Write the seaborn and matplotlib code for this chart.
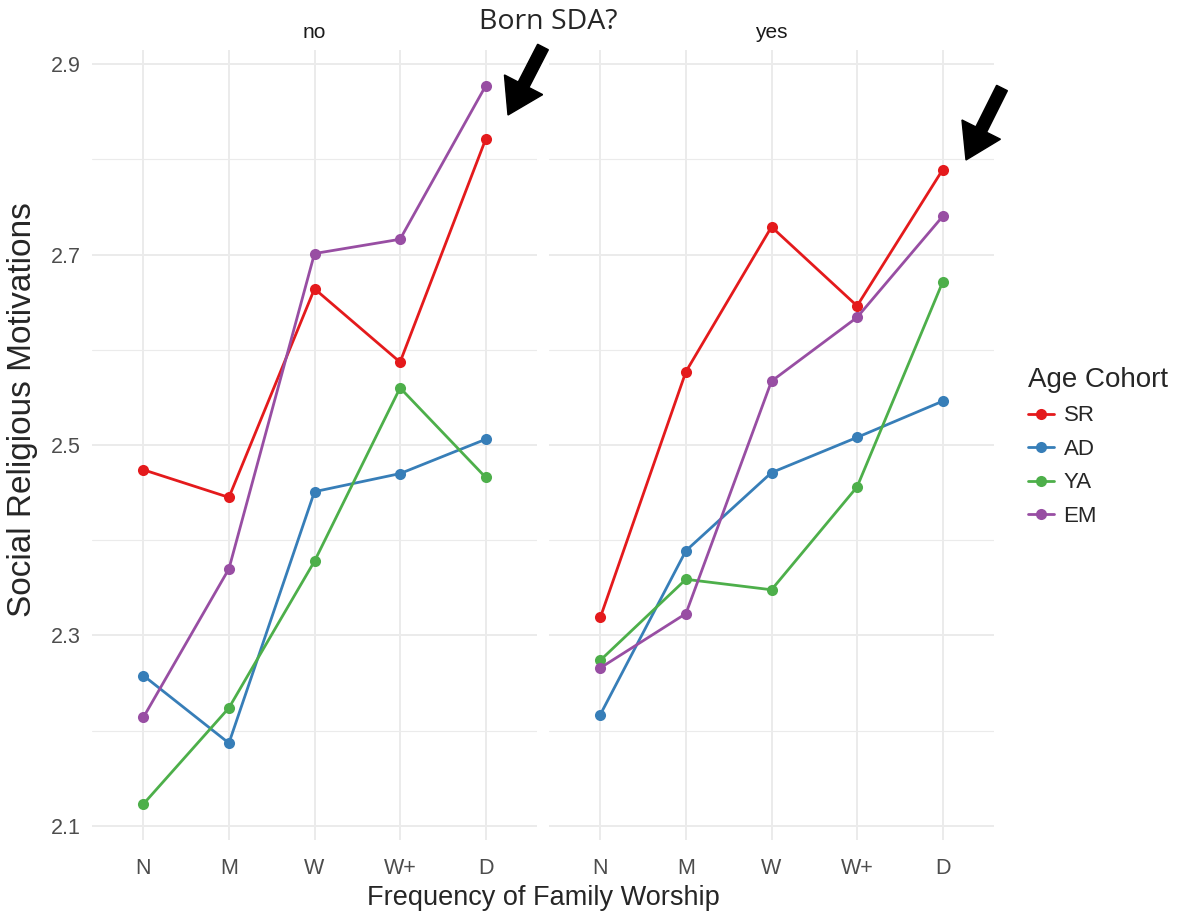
import numpy as np
import pandas as pd
import seaborn as sns
import matplotlib.pyplot as plt
from matplotlib.patches import FancyArrow
from matplotlib.lines import Line2D

freq = ['N', 'M', 'W', 'W+', 'D']
cohorts = ['SR', 'AD', 'YA', 'EM']
panels = ['no', 'yes']

# Born SDA? = no
srNo = [2.474, 2.445, 2.664, 2.587, 2.821]
adNo = [2.258, 2.187, 2.451, 2.470, 2.506]
yaNo = [2.123, 2.224, 2.378, 2.560, 2.466]
emNo = [2.214, 2.370, 2.701, 2.716, 2.877]

# Born SDA? = yes
srYes = [2.319, 2.577, 2.729, 2.646, 2.789]
adYes = [2.217, 2.389, 2.471, 2.508, 2.546]
yaYes = [2.274, 2.359, 2.348, 2.456, 2.671]
emYes = [2.266, 2.323, 2.567, 2.634, 2.740]

palette = ['#E41A1C', '#377EB8', '#4DAF4A', '#984EA3']

rows = []
for panel, series in zip(panels, [[srNo, adNo, yaNo, emNo], [srYes, adYes, yaYes, emYes]]):
    for cohort, vals in zip(cohorts, series):
        for i, v in enumerate(vals):
            rows.append({'born': panel, 'cohort': cohort, 'freq': freq[i], 'pos': i, 'value': v})
df = pd.DataFrame(rows)

sns.set_style('white')
plt.rcParams['font.family'] = ['Liberation Sans', 'DejaVu Sans']

fig = plt.figure(figsize=(11.82, 9.22), dpi=100)
W, H = 1182, 922
lo, hi = df['value'].min(), df['value'].max()
pad = 0.05 * (hi - lo)

axLeft = [92, 549]
for k, panel in enumerate(panels):
    ax = fig.add_axes([axLeft[k] / W, 1 - 840 / H, 445 / W, 790 / H])
    sub = df[df['born'] == panel]
    sns.lineplot(data=sub, x='pos', y='value', hue='cohort', hue_order=cohorts,
                 palette=palette, marker='o', markersize=8, markeredgewidth=0,
                 linewidth=2.0, sort=False, legend=False, ax=ax, zorder=3)
    ax.set_xlim(-0.6, 4.6)
    ax.set_ylim(lo - pad, hi + pad)
    ax.set_yticks([2.1, 2.3, 2.5, 2.7, 2.9])
    ax.set_yticks([2.2, 2.4, 2.6, 2.8], minor=True)
    ax.set_xticks(range(len(freq)))
    ax.set_xticklabels(freq)
    ax.grid(which='major', color='#EBEBEB', linewidth=1.4, zorder=0)
    ax.grid(which='minor', axis='y', color='#EBEBEB', linewidth=0.8, zorder=0)
    ax.tick_params(which='both', length=0, labelsize=15.5, colors='#4D4D4D')
    ax.tick_params(axis='x', pad=13)
    ax.tick_params(axis='y', pad=8)
    if k == 1:
        ax.set_yticklabels([])
    for s in ax.spines.values():
        s.set_visible(False)
    ax.set_xlabel('')
    ax.set_ylabel('')
    ax.text(0.5, 1 + 18 / 790, panel, transform=ax.transAxes, ha='center', va='center',
            fontsize=15, color='#1A1A1A')

fig.text(23 / W, 1 - 410 / H, 'Social Religious Motivations', rotation=90,
         ha='center', va='center', fontsize=24)
fig.text(543 / W, 1 - 898 / H, 'Frequency of Family Worship', ha='center', va='center', fontsize=19.5)

handles = [Line2D([], [], color=c, marker='o', markersize=8, linewidth=2.0, markeredgewidth=0)
           for c in palette]
leg = fig.legend(handles, cohorts, title='Age Cohort', loc='upper left',
                 bbox_to_anchor=(1028 / W, 1 - 367 / H), frameon=False, fontsize=16,
                 title_fontsize=20, handlelength=1.15, labelspacing=0.56, handletextpad=0.45,
                 borderpad=0, borderaxespad=0)
leg._legend_box.align = 'left'

fig.text(548 / W, 1 - 22 / H, 'Born SDA?', ha='center', va='center', fontsize=20.5,
         family=['Open Sans', 'DejaVu Sans'])

# arrows in pixel space (inches from bottom-left)
for (x0, y0, x1, y1) in [(543, 47, 508, 115), (1002, 88, 966, 160)]:
    arr = FancyArrow(x0 / 100, (H - y0) / 100, (x1 - x0) / 100, -(y1 - y0) / 100,
                     width=0.12, head_width=0.43, head_length=0.34,
                     length_includes_head=True, color='black', transform=fig.dpi_scale_trans)
    fig.add_artist(arr)

fig.savefig('out.png', dpi=100)
